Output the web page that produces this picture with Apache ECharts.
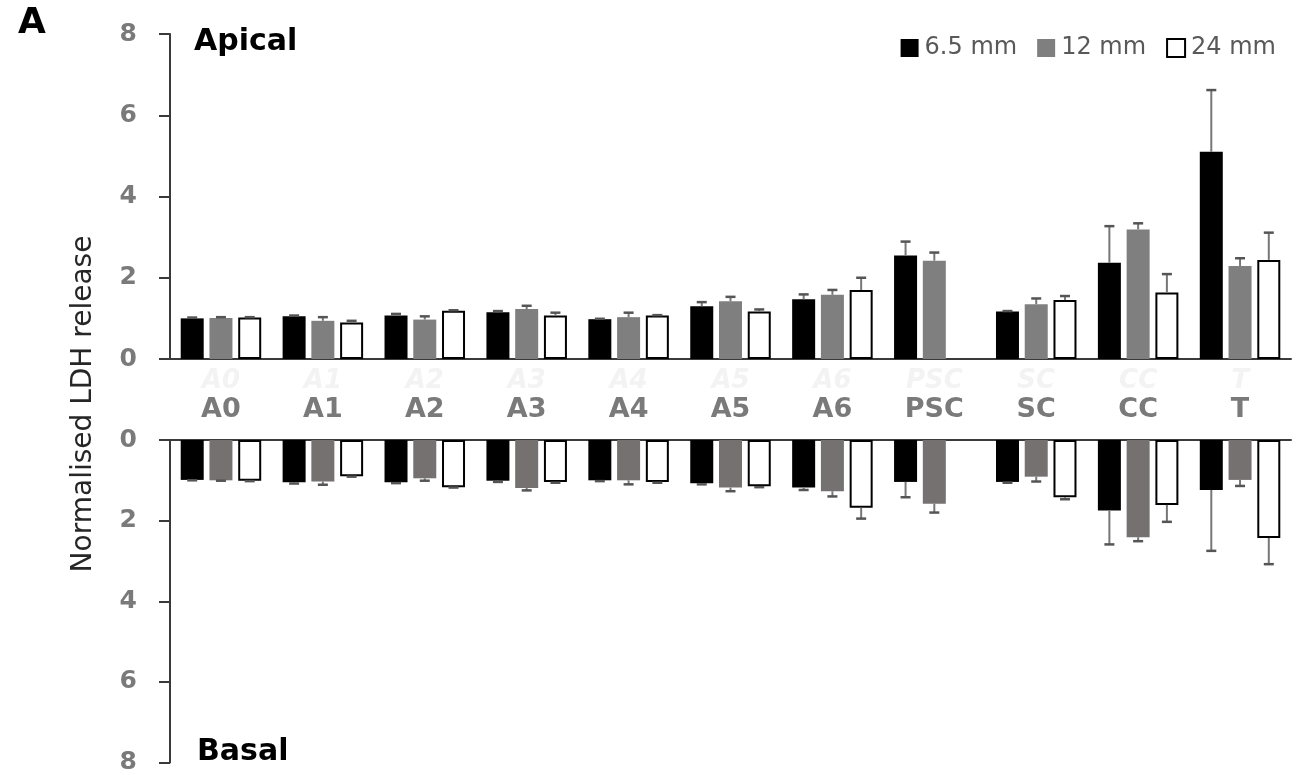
<!DOCTYPE html>
<html>
<head>
<meta charset="utf-8">
<script src="https://cdn.jsdelivr.net/npm/echarts@6/dist/echarts.min.js"></script>
<style>html,body{margin:0;padding:0;background:#fff;}#c{width:1299px;height:775px;}</style>
</head>
<body>
<div id="c"></div>
<script>
// ---- data ----
var categories = ['A0','A1','A2','A3','A4','A5','A6','PSC','SC','CC','T'];
var seriesNames = ['6.5 mm','12 mm','24 mm'];
var yTicks = [0, 2, 4, 6, 8];

var apical65    = [1.00, 1.05, 1.07, 1.15, 0.98, 1.30, 1.47, 2.55, 1.17, 2.37, 5.10];
var apical65Err = [0.02, 0.02, 0.04, 0.03, 0.01, 0.10, 0.12, 0.34, 0.01, 0.90, 1.52];
var apical12    = [1.01, 0.94, 0.97, 1.23, 1.03, 1.42, 1.58, 2.42, 1.35, 3.19, 2.29];
var apical12Err = [0.02, 0.09, 0.08, 0.08, 0.11, 0.11, 0.12, 0.20, 0.14, 0.15, 0.19];
var apical24    = [1.02, 0.90, 1.19, 1.07, 1.07, 1.17, 1.70, null, 1.45, 1.64, 2.44];
var apical24Err = [0.01, 0.04, 0.01, 0.07, 0.01, 0.05, 0.30, null, 0.10, 0.45, 0.67];

var basal65    = [0.99, 1.05, 1.05, 1.01, 1.00, 1.07, 1.18, 1.04, 1.04, 1.75, 1.24];
var basal65Err = [0.01, 0.03, 0.02, 0.03, 0.02, 0.03, 0.06, 0.38, 0.02, 0.84, 1.51];
var basal12    = [1.00, 1.03, 0.95, 1.19, 1.00, 1.18, 1.27, 1.58, 0.91, 2.41, 0.99];
var basal12Err = [0.01, 0.08, 0.06, 0.06, 0.10, 0.09, 0.13, 0.22, 0.12, 0.10, 0.15];
var basal24    = [1.01, 0.90, 1.17, 1.04, 1.04, 1.15, 1.68, null, 1.42, 1.61, 2.43];
var basal24Err = [0.01, 0.01, 0.01, 0.02, 0.02, 0.02, 0.27, null, 0.05, 0.42, 0.65];

// ---- styles ----
var FONT = '"DejaVu Sans", sans-serif';
var AXIS_COLOR = '#3a3a3a';
var LABEL_GREY = '#7a7a7a';
var BAR_W = 23, BAR_GAP = 0.25;
var step = BAR_W * (1 + BAR_GAP);
var offsets = [-step, 0, step];

function barSeries(name, data, gi, style) {
  return {
    name: name, type: 'bar', xAxisIndex: gi, yAxisIndex: gi,
    data: data.map(function (v) { return v == null ? '-' : v; }),
    barWidth: BAR_W, barGap: (BAR_GAP * 100) + '%',
    itemStyle: style, emphasis: { disabled: true }, z: 2
  };
}
function errSeries(vals, errs, gi, k) {
  var d = [];
  vals.forEach(function (v, i) { if (v != null) d.push([i, v, v + errs[i]]); });
  return {
    type: 'custom', xAxisIndex: gi, yAxisIndex: gi, z: 3, silent: true,
    encode: { x: 0, y: [1, 2] },
    data: d,
    renderItem: function (params, api) {
      var c = api.value(0);
      var p1 = api.coord([c, api.value(1)]);
      var p2 = api.coord([c, api.value(2)]);
      var x = p1[0] + offsets[k];
      return {
        type: 'group',
        children: [
          { type: 'line', shape: { x1: x, y1: p1[1], x2: x, y2: p2[1] }, style: { stroke: '#777', lineWidth: 2 } },
          { type: 'line', shape: { x1: x - 5, y1: p2[1], x2: x + 5, y2: p2[1] }, style: { stroke: '#555', lineWidth: 2.5 } }
        ]
      };
    }
  };
}

var blackStyle = { color: '#000' };
var greyTop = { color: '#7f7f7f' };
var greyBot = { color: '#767171' };
var whiteStyle = { color: '#fff', borderColor: '#000', borderWidth: 2 };

function yAxis(gi, inverse) {
  return {
    type: 'value', gridIndex: gi, min: yTicks[0], max: yTicks[yTicks.length - 1], interval: 2, inverse: inverse,
    axisLine: { show: true, lineStyle: { color: AXIS_COLOR, width: 2 } },
    axisTick: { show: true, length: 11, lineStyle: { color: AXIS_COLOR, width: 2 } },
    axisLabel: { margin: 33, color: LABEL_GREY, fontFamily: FONT, fontWeight: 'bold', fontSize: 25 },
    splitLine: { show: false }
  };
}

var option = {
  backgroundColor: '#fff',
  animation: false,
  legend: {
    data: seriesNames, right: 18, top: 31, icon: 'rect', itemWidth: 18, itemHeight: 18, itemGap: 20,
    textStyle: { fontFamily: FONT, fontSize: 24, color: '#595959', padding: [0, 0, 0, 1] }
  },
  grid: [
    { left: 170, right: 8, top: 34, height: 325 },
    { left: 170, right: 8, top: 440, height: 325 }
  ],
  xAxis: [
    { type: 'category', gridIndex: 0, data: categories, position: 'bottom',
      axisLine: { lineStyle: { color: AXIS_COLOR, width: 2 } }, axisTick: { show: false },
      axisLabel: { margin: 9, color: '#f3f3f3', fontFamily: FONT, fontWeight: 'bold', fontStyle: 'italic', fontSize: 26 } },
    { type: 'category', gridIndex: 1, data: categories, position: 'top',
      axisLine: { lineStyle: { color: AXIS_COLOR, width: 2 } }, axisTick: { show: false },
      axisLabel: { margin: 17, color: LABEL_GREY, fontFamily: FONT, fontWeight: 'bold', fontSize: 27 } }
  ],
  yAxis: [yAxis(0, false), yAxis(1, true)],
  graphic: [
    { type: 'text', x: 18, y: 24, style: { text: 'A', font: 'bold 36px ' + FONT, fill: '#000', textVerticalAlign: 'middle' } },
    { type: 'text', x: 194, y: 42, style: { text: 'Apical', font: 'bold 30px ' + FONT, fill: '#000', textVerticalAlign: 'middle' } },
    { type: 'text', x: 197, y: 752, style: { text: 'Basal', font: 'bold 30px ' + FONT, fill: '#000', textVerticalAlign: 'middle' } },
    { type: 'text', x: 84, y: 404, rotation: Math.PI / 2,
      style: { text: 'Normalised LDH release', font: '28px ' + FONT, fill: '#262626', textAlign: 'center', textVerticalAlign: 'middle' } }
  ],
  series: [
    barSeries(seriesNames[0], apical65, 0, blackStyle),
    barSeries(seriesNames[1], apical12, 0, greyTop),
    barSeries(seriesNames[2], apical24, 0, whiteStyle),
    barSeries(seriesNames[0], basal65, 1, blackStyle),
    barSeries(seriesNames[1], basal12, 1, greyBot),
    barSeries(seriesNames[2], basal24, 1, whiteStyle),
    errSeries(apical65, apical65Err, 0, 0),
    errSeries(apical12, apical12Err, 0, 1),
    errSeries(apical24, apical24Err, 0, 2),
    errSeries(basal65, basal65Err, 1, 0),
    errSeries(basal12, basal12Err, 1, 1),
    errSeries(basal24, basal24Err, 1, 2)
  ]
};
var chart = echarts.init(document.getElementById('c'), null, { renderer: 'canvas' });
chart.setOption(option);
</script>
</body>
</html>
